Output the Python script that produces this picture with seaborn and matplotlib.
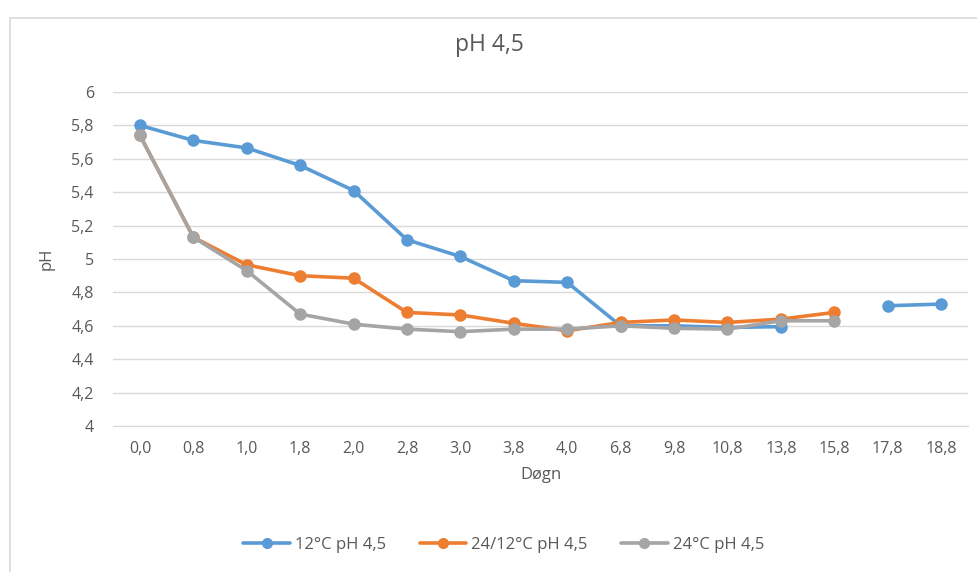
import matplotlib
matplotlib.use("Agg")
import matplotlib.pyplot as plt
import seaborn as sns
import pandas as pd
import numpy as np
from matplotlib.lines import Line2D
from matplotlib.patches import Rectangle

categories = ["0,0", "0,8", "1,0", "1,8", "2,0", "2,8", "3,0", "3,8", "4,0",
              "6,8", "9,8", "10,8", "13,8", "15,8", "17,8", "18,8"]
nan = np.nan
blue_12 = [5.80, 5.71, 5.665, 5.56, 5.41, 5.115, 5.015, 4.87, 4.86,
           4.60, 4.60, 4.59, 4.595, nan, 4.72, 4.73]
orange_24_12 = [5.74, 5.13, 4.965, 4.90, 4.885, 4.68, 4.665, 4.615, 4.57,
                4.62, 4.635, 4.62, 4.64, 4.68, nan, nan]
gray_24 = [5.74, 5.13, 4.93, 4.67, 4.61, 4.58, 4.565, 4.58, 4.58,
           4.60, 4.585, 4.58, 4.63, 4.63, nan, nan]
series_names = ["12°C pH 4,5", "24/12°C pH 4,5", "24°C pH 4,5"]
colors = ["#5B9BD5", "#ED7D31", "#A5A5A5"]

rows = []
for name, vals in zip(series_names, [blue_12, orange_24_12, gray_24]):
    seg = 0
    for i, v in enumerate(vals):
        if np.isnan(v):
            seg += 1
            continue
        rows.append({"series": name, "x": i, "pH": v, "seg": f"{name}-{seg}"})
df = pd.DataFrame(rows)

sns.set_style("white")
plt.rcParams["font.family"] = ["Open Sans", "DejaVu Sans"]
text_color = "#595959"

fig = plt.figure(figsize=(9.78, 5.72), dpi=100)
ax = fig.add_axes([113.3 / 978, 1 - 426 / 572, (967.7 - 113.3) / 978, (426 - 92) / 572])

for name, col in zip(series_names, colors):
    sub = df[df["series"] == name]
    sns.lineplot(data=sub, x="x", y="pH", units="seg", estimator=None, sort=False,
                 color=col, linewidth=2.6, marker="o", markersize=9,
                 markeredgewidth=0, ax=ax, legend=False)

ax.set_xlim(-0.5, len(categories) - 0.5)
ax.set_ylim(4, 6)
ax.set_xticks(range(len(categories)))
ax.set_xticklabels(categories)
yt = np.arange(4.0, 6.01, 0.2)
ax.set_yticks(yt)
ax.set_yticklabels([f"{v:.0f}" if abs(v - round(v)) < 1e-9 else f"{v:.1f}".replace(".", ",") for v in yt])
ax.grid(axis="y", color="#D9D9D9", linewidth=1)
ax.set_axisbelow(True)
for s in ["top", "right", "left"]:
    ax.spines[s].set_visible(False)
ax.spines["bottom"].set_color("#D9D9D9")
ax.tick_params(axis="both", length=0, labelsize=11.5, colors=text_color, pad=11)
ax.tick_params(axis="y", pad=14)
ax.set_xlabel("Døgn", fontsize=12, color=text_color, labelpad=7)
ax.set_ylabel("pH", fontsize=12, color=text_color, labelpad=12)

fig.text(0.5, 1 - 45 / 572, "pH 4,5", ha="center", va="center", fontsize=16.5, color=text_color)

handles = [Line2D([0], [0], color=c, linewidth=2.6, marker="o", markersize=8, markeredgewidth=0)
           for c in colors]
fig.legend(handles, series_names, loc="center", bbox_to_anchor=(0.515, 1 - 545 / 572), ncol=3,
           frameon=False, fontsize=12, labelcolor=text_color, handlelength=2.8,
           columnspacing=2.0, handletextpad=0.3)

fig.patches.append(Rectangle((10 / 978, -0.1), 2, 1.1 - 18 / 572, transform=fig.transFigure,
                             fill=False, edgecolor="#D9D9D9", linewidth=1.2))

fig.savefig("out.png", dpi=100)
